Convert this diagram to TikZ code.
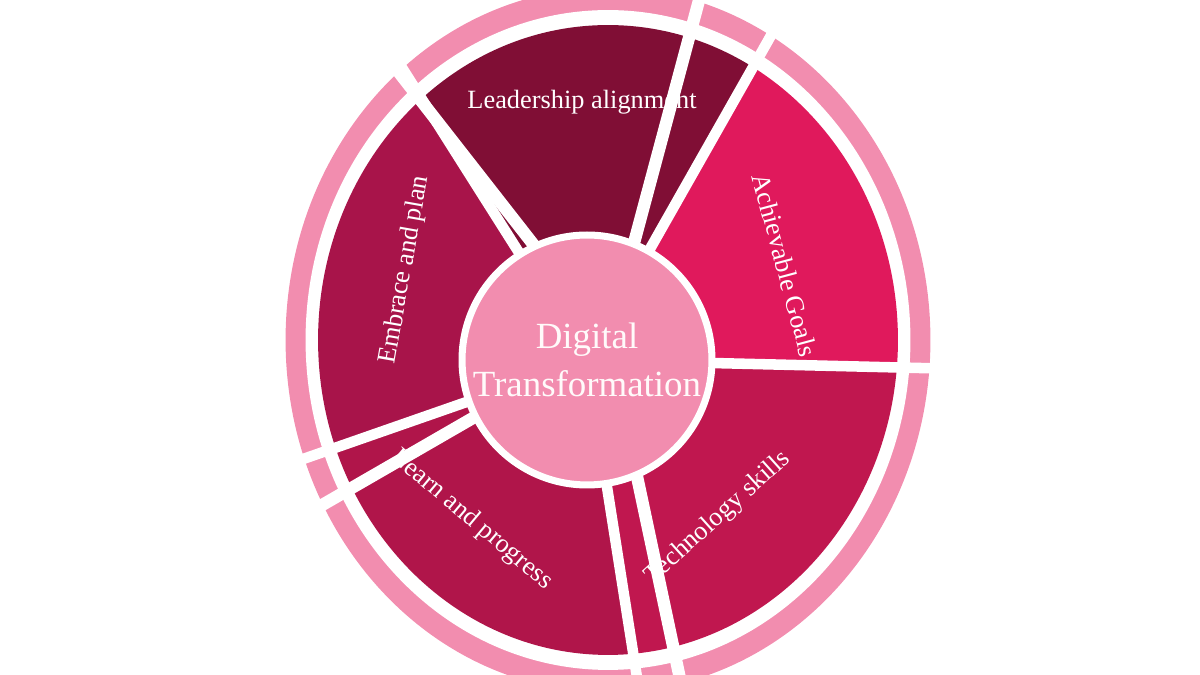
\documentclass[tikz,border=0pt]{standalone}
\usetikzlibrary{calc}
\usepackage{fontspec}
\setmainfont{Liberation Serif}
\begin{document}
\begin{tikzpicture}[x=0.02cm,y=0.02cm,
  lbl/.style={text=white,font=\fontsize{15}{17}\selectfont},
  divider/.style={white,line width=6pt}]
\useasboundingbox (0,0) rectangle (1200,675);
\clip (0,0) rectangle (1200,675);
\coordinate (E) at (608,335);
\coordinate (C) at (587,315);
\definecolor{ringc}{HTML}{F28DAF}
\fill[ringc] (E) ellipse[x radius=6.45cm,y radius=7.05cm];
\fill[white] (E) ellipse[x radius=6.05cm,y radius=6.6cm];
\definecolor{cA}{HTML}{E0195C}
\definecolor{cL}{HTML}{800E35}
\definecolor{cE}{HTML}{A8144A}
\definecolor{cP}{HTML}{B0154A}
\definecolor{cT}{HTML}{C0174F}
\foreach \a/\b/\c in {-5/60/cA,60/130/cL,130/200/cE,200/275/cP,275/355/cT}{
  \begin{scope}
    \coordinate (pa) at ([shift={(E)}]\a:5.8cm and 6.3cm);
    \coordinate (pb) at ([shift={(E)}]\b:5.8cm and 6.3cm);
    \pgfmathsetmacro\m{(\a+\b)/2}
    \coordinate (pm) at ([shift={(C)}]\m:14cm);
    \clip (C) -- ($(C)!4!(pa)$) -- (pm) -- ($(C)!4!(pb)$) -- cycle;
    \fill[\c] (E) ellipse[x radius=5.8cm,y radius=6.3cm];
  \end{scope}
}
% dividers
\foreach \a in {60,130,-5,275,200}{
  \coordinate (p) at ([shift={(E)}]\a:5.8cm and 6.3cm);
  \draw[divider] (C) -- ($(C)!1.2!(p)$);
}
% gaps in ring
\foreach \a in {75,128,210,282}{
  \coordinate (g) at ([shift={(E)}]\a:8cm);
  \draw[white,line width=7pt] (E) -- (g);
}
% center
\node[circle,fill=ringc,draw=white,line width=4pt,minimum size=5cm] (ctr) at (C) {};
\node[text=white!92!pink,font=\fontsize{21}{27}\selectfont,align=center] (t) at (C) {Digital\\Transformation};
\node[lbl] (l1) at (582,573) {Leadership alignment};
\node[lbl,rotate=-75] (l2) at (785,410) {Achievable Goals};
\node[lbl,rotate=42] (l3) at (718,157) {Technology skills};
\node[lbl,rotate=-40] (l4) at (472,155) {Learn and progress};
\node[lbl,rotate=80] (l5) at (405,405) {Embrace and plan};
\end{tikzpicture}
\end{document}
